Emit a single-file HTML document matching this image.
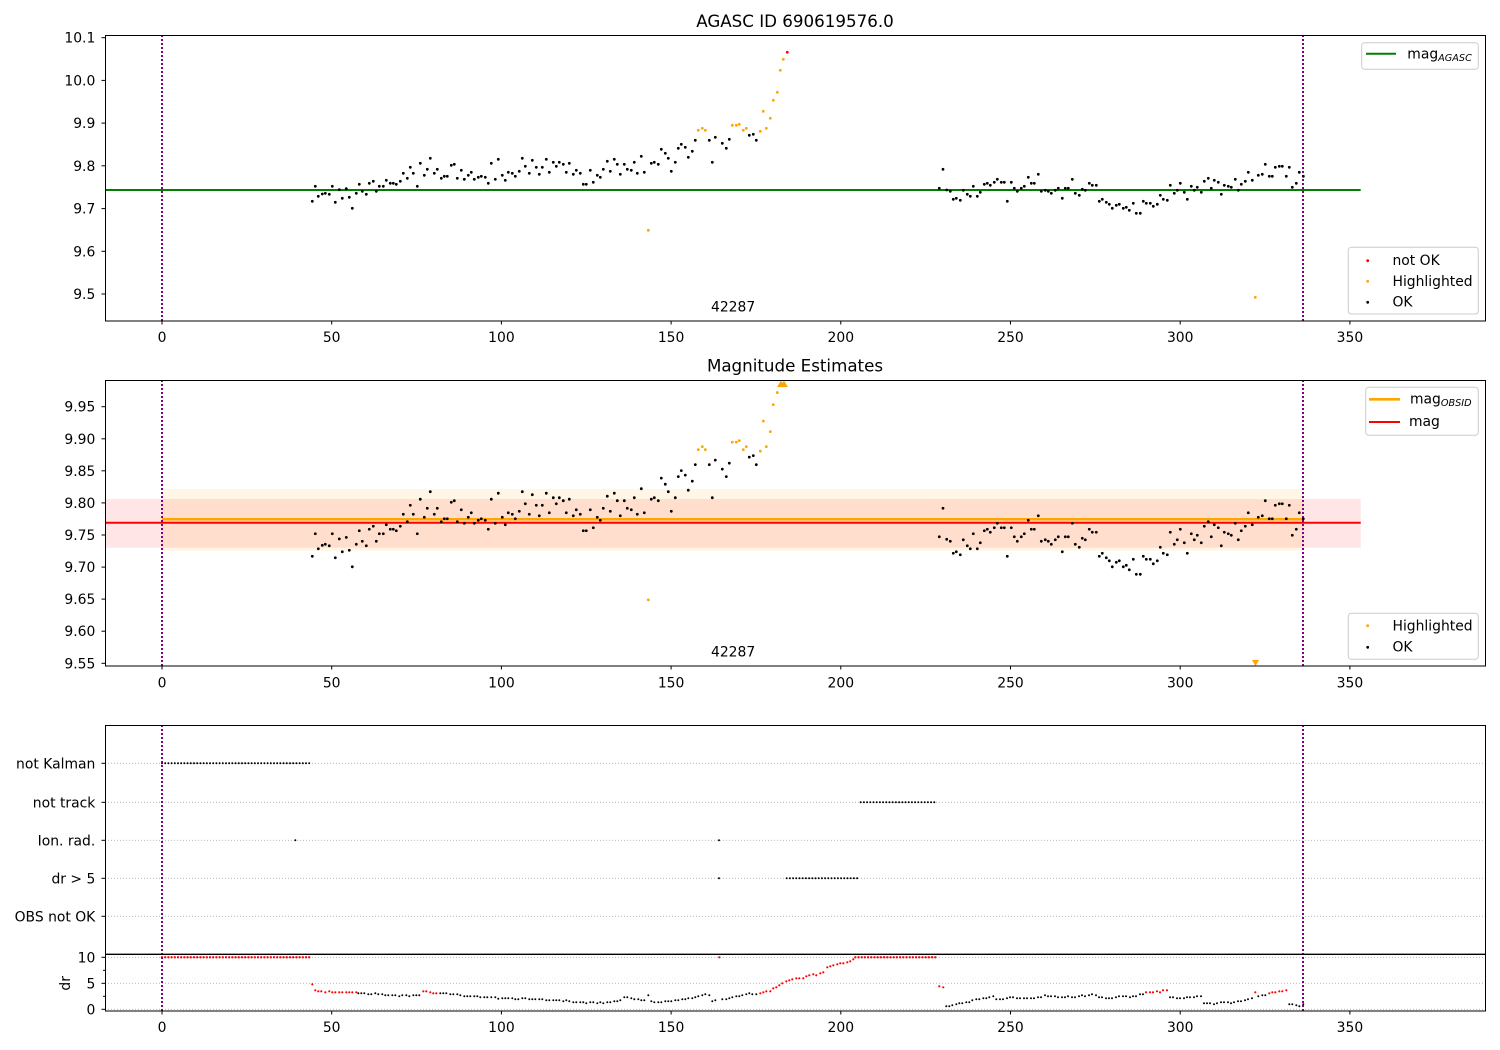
<!DOCTYPE html>
<html><head><meta charset="utf-8"><style>
html,body{margin:0;padding:0;background:#fff;}
svg{display:block;}
text{font-family:"DejaVu Sans","Liberation Sans",sans-serif;fill:#000;}
.t{font-size:13.9px;}
.ti{font-size:16.7px;}
</style></head><body>
<svg width="1500" height="1050" viewBox="0 0 1500 1050" xmlns="http://www.w3.org/2000/svg">
<defs>
<clipPath id="c1"><rect x="105" y="35" width="1380.5" height="286"/></clipPath>
<clipPath id="c2"><rect x="105" y="380" width="1380.5" height="286.3"/></clipPath>
<clipPath id="c3"><rect x="105" y="725" width="1380.5" height="286"/></clipPath>
</defs>
<rect width="1500" height="1050" fill="#fff"/>

<!-- ================= PANEL 1 ================= -->
<text class="ti" x="795" y="27" text-anchor="middle">AGASC ID 690619576.0</text>
<g clip-path="url(#c1)">
<line x1="105" y1="190" x2="1360.7" y2="190" stroke="#008000" stroke-width="2"/>
<line x1="162" y1="35" x2="162" y2="321" stroke="#800080" stroke-width="2" stroke-dasharray="2 2"/>
<line x1="1303" y1="35" x2="1303" y2="321" stroke="#800080" stroke-width="2" stroke-dasharray="2 2"/>
<path id="blk" vector-effect="non-scaling-stroke" fill="none" stroke="#000" stroke-width="2.8" stroke-linecap="round" d="M312.3 201.3h0M315.3 186.3h0M318.3 196.3h0M322.3 194h0M325.3 193.3h0M329.3 194.3h0M332.3 186.3h0M335.3 202.3h0M339.3 189.7h0M342.3 198.3h0M346.3 188.7h0M349.3 197.3h0M352.3 208.3h0M356.3 193.3h0M359.3 184.3h0M362.3 191.3h0M366.3 194.3h0M369.3 183.3h0M373.3 181.3h0M376.3 191.3h0M379.3 186.3h0M383.3 186.3h0M386.3 180.3h0M390.3 183.3h0M393.3 183.3h0M396.3 184.3h0M400.3 181.3h0M403.3 173.3h0M407.3 178.3h0M410.3 167.3h0M413.3 173.3h0M417.3 186.3h0M420.3 163.3h0M424.3 175.3h0M427.3 169.3h0M430.3 158.3h0M434.3 173.3h0M437.3 169.3h0M441.3 178.3h0M444.3 176.3h0M447.3 176.3h0M451.3 165.3h0M454.3 164.3h0M457.3 178.3h0M461.3 170.3h0M464.3 179.3h0M468.3 175.3h0M471.3 172.3h0M474.3 179.3h0M478.3 177.3h0M481.3 176.3h0M485.3 177.3h0M488.3 183.3h0M491.3 163.3h0M495.3 179.3h0M498.3 159.3h0M502.3 175.3h0M505.3 180.3h0M508.3 172.3h0M512.3 173.3h0M515.3 176.3h0M519.3 171.3h0M522.3 158.3h0M525.3 166.3h0M529.3 173.3h0M532.3 160.3h0M536.3 167.3h0M539.3 174.3h0M542.3 167.3h0M546.3 159.3h0M549.3 172.3h0M553.3 162.3h0M556.3 166.3h0M559.3 162.3h0M563.3 164.3h0M566.3 172.3h0M569.3 163.3h0M573.3 174.3h0M576.3 170.3h0M580.3 173.3h0M583.3 184.3h0M586.3 184.3h0M590.3 170.3h0M593.3 182.3h0M597.3 175.3h0M600.3 177.3h0M603.3 169.3h0M607.3 161.3h0M610.3 171.3h0M614.3 159.3h0M617.3 164.3h0M620.3 174.3h0M624.3 164.3h0M627.3 169.3h0M631.3 170.3h0M634.3 162.3h0M637.3 173.3h0M641.3 156.3h0M644.3 172.3h0M651.3 163.3h0M654.3 162.3h0M658.3 164.3h0M661.3 149.3h0M665.3 153.3h0M668.3 158.3h0M671.3 171.3h0M675.3 162.3h0M678.3 148.3h0M681.3 144.3h0M685.3 147.3h0M688.3 157.3h0M692.3 151.3h0M695.3 140.3h0M709.3 140.3h0M712.3 162.3h0M715.3 137.3h0M722.3 143.3h0M726.3 148.3h0M729.3 139.3h0M749.3 135.3h0M753.3 134.3h0M756.3 140.3h0M939.3 188.3h0M943 169.3h0M946.7 190h0M950.3 191.3h0M953.3 199.3h0M956.3 198.3h0M960.3 200.3h0M963.3 190.3h0M967.3 194.3h0M970.3 196.3h0M973.3 186.3h0M977.3 196.3h0M980.3 192.3h0M984.3 184.3h0M987.3 183.3h0M990.3 185.3h0M994.3 182.3h0M997.3 179.3h0M1001.3 182.3h0M1004.3 182.3h0M1007.3 201.3h0M1011.3 182.3h0M1014.3 188.3h0M1017.3 191.3h0M1021.3 188.3h0M1024.3 186.3h0M1028.3 177.3h0M1031.3 183.3h0M1034.3 183.3h0M1038.3 174.3h0M1041.3 191.3h0M1045.3 190.3h0M1048.3 191.3h0M1051.3 193.3h0M1055.3 190.3h0M1058.3 188.3h0M1062.3 198.3h0M1065.3 188.3h0M1068.3 188.3h0M1072.3 179.3h0M1075.3 193.3h0M1079.3 195.3h0M1082.3 189.3h0M1085.3 190.3h0M1089.3 183.3h0M1092.3 185.3h0M1096.3 185.3h0M1099.3 201.3h0M1102.3 199.3h0M1106.3 202.3h0M1109.3 204.3h0M1112.3 208.3h0M1116.3 205.3h0M1119.3 204.3h0M1123.3 208.3h0M1126.3 207.3h0M1129.3 210.3h0M1133.3 203.3h0M1136.3 213.3h0M1140.3 213.3h0M1143.3 201.3h0M1146.3 203.3h0M1150.3 203.3h0M1153.3 206.3h0M1157.3 204.3h0M1160.3 195.3h0M1163.3 199.3h0M1167.3 200.3h0M1170.3 185.3h0M1174.3 193.3h0M1177.3 190.3h0M1180.3 183.3h0M1184.3 192.3h0M1187.3 199.3h0M1191.3 186.3h0M1194.3 190.3h0M1197.3 187.3h0M1201.3 192.3h0M1204.3 181.3h0M1208.3 178.3h0M1211.3 188.3h0M1214.3 180.3h0M1218.3 182.3h0M1221.3 194.3h0M1224.3 185.3h0M1228.3 186.3h0M1231.3 187.3h0M1235.3 179.3h0M1238.3 190.3h0M1241.3 184.3h0M1245.3 181.3h0M1248.3 172.3h0M1252.3 180.3h0M1258.3 175.3h0M1262.3 174.3h0M1265.3 164.3h0M1269.3 176.3h0M1272.3 176.3h0M1275.3 167.3h0M1279.3 166.3h0M1282.3 166.3h0M1286.3 176.3h0M1289.3 167.3h0M1292.3 187.3h0M1296.3 183.3h0M1299.3 172.3h0M1303.3 176.3h0"/>
<path id="org" vector-effect="non-scaling-stroke" fill="none" stroke="#ffa500" stroke-width="2.8" stroke-linecap="round" d="M698.3 130.3h0M702.3 128.3h0M705.3 130.3h0M648.3 230.3h0M732.3 125.3h0M736.3 125.3h0M739.3 124.3h0M743.3 130.3h0M746.3 128.3h0M760.3 131.3h0M763.3 111.3h0M766.3 128.3h0M770.3 118.3h0M773.3 100.3h0M777.3 92.3h0M780.3 70.3h0M783.3 59.3h0M1255.3 297.3h0"/>
<path fill="none" stroke="#ff0000" stroke-width="2.8" stroke-linecap="round" d="M787.3 52.3h0"/>
</g>
<text class="t" x="711" y="311.7">42287</text>
<rect x="105.5" y="35.5" width="1380" height="285.5" fill="none" stroke="#000" stroke-width="1"/>
<!-- y ticks p1 -->
<g stroke="#000" stroke-width="1">
<line x1="101.5" y1="294" x2="105" y2="294"/><line x1="101.5" y1="251.3" x2="105" y2="251.3"/><line x1="101.5" y1="208.6" x2="105" y2="208.6"/><line x1="101.5" y1="165.8" x2="105" y2="165.8"/><line x1="101.5" y1="123.1" x2="105" y2="123.1"/><line x1="101.5" y1="80.4" x2="105" y2="80.4"/><line x1="101.5" y1="37.7" x2="105" y2="37.7"/>
<line x1="162" y1="321" x2="162" y2="324.5"/><line x1="331.7" y1="321" x2="331.7" y2="324.5"/><line x1="501.4" y1="321" x2="501.4" y2="324.5"/><line x1="671.1" y1="321" x2="671.1" y2="324.5"/><line x1="840.8" y1="321" x2="840.8" y2="324.5"/><line x1="1010.5" y1="321" x2="1010.5" y2="324.5"/><line x1="1180.2" y1="321" x2="1180.2" y2="324.5"/><line x1="1349.9" y1="321" x2="1349.9" y2="324.5"/>
</g>
<g class="t" text-anchor="end" font-size="13.9">
<text x="95.3" y="299">9.5</text><text x="95.3" y="256.3">9.6</text><text x="95.3" y="213.6">9.7</text><text x="95.3" y="170.8">9.8</text><text x="95.3" y="128.1">9.9</text><text x="95.3" y="85.4">10.0</text><text x="95.3" y="42.7">10.1</text>
</g>
<g text-anchor="middle" font-size="13.9">
<text x="162" y="342">0</text><text x="331.7" y="342">50</text><text x="501.4" y="342">100</text><text x="671.1" y="342">150</text><text x="840.8" y="342">200</text><text x="1010.5" y="342">250</text><text x="1180.2" y="342">300</text><text x="1349.9" y="342">350</text>
</g>
<!-- legends p1 -->
<rect x="1361.7" y="42.7" width="116.6" height="26.6" rx="3" fill="#fff" fill-opacity="0.8" stroke="#cccccc" stroke-width="1"/>
<line x1="1366" y1="53.7" x2="1396" y2="53.7" stroke="#008000" stroke-width="2"/>
<text font-size="13.9" x="1407.3" y="58.3">mag<tspan font-size="9.7" font-style="italic" dy="2.8">AGASC</tspan></text>
<rect x="1348.3" y="247.3" width="130" height="66.7" rx="3" fill="#fff" fill-opacity="0.8" stroke="#cccccc" stroke-width="1"/>
<path fill="none" stroke="#ff0000" stroke-width="2.8" stroke-linecap="round" d="M1367.7 260.7h0"/>
<path fill="none" stroke="#ffa500" stroke-width="2.8" stroke-linecap="round" d="M1367.7 281.3h0"/>
<path fill="none" stroke="#000" stroke-width="2.8" stroke-linecap="round" d="M1367.7 302.3h0"/>
<text font-size="13.9" x="1392.5" y="265">not OK</text>
<text font-size="13.9" x="1392.5" y="286">Highlighted</text>
<text font-size="13.9" x="1392.5" y="306.7">OK</text>

<!-- ================= PANEL 2 ================= -->
<text class="ti" x="795" y="371.7" text-anchor="middle">Magnitude Estimates</text>
<g clip-path="url(#c2)">
<rect x="105" y="499" width="1255.7" height="48.7" fill="#ff0000" fill-opacity="0.1"/>
<rect x="162" y="489" width="1141" height="61.7" fill="#ffa500" fill-opacity="0.1"/>
<line x1="162" y1="519.3" x2="1303" y2="519.3" stroke="#ffa500" stroke-width="2.5"/>
<line x1="105" y1="522.7" x2="1360.7" y2="522.7" stroke="#ff0000" stroke-width="2"/>
<line x1="162" y1="380" x2="162" y2="666" stroke="#800080" stroke-width="2" stroke-dasharray="2 2"/>
<line x1="1303" y1="380" x2="1303" y2="666" stroke="#800080" stroke-width="2" stroke-dasharray="2 2"/>
<g transform="matrix(1 0 0 1.5019 0 253.95)">
<use href="#blk"/>
<use href="#org"/>
</g>
<polygon points="777,387 781,380.5 785,387" fill="#ffa500"/>
<polygon points="780,387 784,380.5 788,387" fill="#ffa500"/>
<polygon points="1252,660 1259,660 1255.5,666" fill="#ffa500"/>
</g>
<text font-size="13.9" x="711" y="656.7">42287</text>
<rect x="105.5" y="380.5" width="1380" height="285.5" fill="none" stroke="#000" stroke-width="1"/>
<g stroke="#000" stroke-width="1">
<line x1="101.5" y1="663.3" x2="105" y2="663.3"/><line x1="101.5" y1="631.2" x2="105" y2="631.2"/><line x1="101.5" y1="599.1" x2="105" y2="599.1"/><line x1="101.5" y1="567.1" x2="105" y2="567.1"/><line x1="101.5" y1="535" x2="105" y2="535"/><line x1="101.5" y1="502.9" x2="105" y2="502.9"/><line x1="101.5" y1="470.8" x2="105" y2="470.8"/><line x1="101.5" y1="438.8" x2="105" y2="438.8"/><line x1="101.5" y1="406.7" x2="105" y2="406.7"/>
<line x1="162" y1="666" x2="162" y2="669.5"/><line x1="331.7" y1="666" x2="331.7" y2="669.5"/><line x1="501.4" y1="666" x2="501.4" y2="669.5"/><line x1="671.1" y1="666" x2="671.1" y2="669.5"/><line x1="840.8" y1="666" x2="840.8" y2="669.5"/><line x1="1010.5" y1="666" x2="1010.5" y2="669.5"/><line x1="1180.2" y1="666" x2="1180.2" y2="669.5"/><line x1="1349.9" y1="666" x2="1349.9" y2="669.5"/>
</g>
<g text-anchor="end" font-size="13.9">
<text x="95.3" y="668.3">9.55</text><text x="95.3" y="636.2">9.60</text><text x="95.3" y="604.1">9.65</text><text x="95.3" y="572.1">9.70</text><text x="95.3" y="540">9.75</text><text x="95.3" y="507.9">9.80</text><text x="95.3" y="475.8">9.85</text><text x="95.3" y="443.8">9.90</text><text x="95.3" y="411.7">9.95</text>
</g>
<g text-anchor="middle" font-size="13.9">
<text x="162" y="687.3">0</text><text x="331.7" y="687.3">50</text><text x="501.4" y="687.3">100</text><text x="671.1" y="687.3">150</text><text x="840.8" y="687.3">200</text><text x="1010.5" y="687.3">250</text><text x="1180.2" y="687.3">300</text><text x="1349.9" y="687.3">350</text>
</g>
<rect x="1365.7" y="387.3" width="112.6" height="48" rx="3" fill="#fff" fill-opacity="0.8" stroke="#cccccc" stroke-width="1"/>
<line x1="1369" y1="399.3" x2="1400" y2="399.3" stroke="#ffa500" stroke-width="2.7"/>
<line x1="1369" y1="422" x2="1400" y2="422" stroke="#ff0000" stroke-width="2"/>
<text font-size="13.9" x="1410" y="403.3">mag<tspan font-size="9.7" font-style="italic" dy="2.6">OBSID</tspan></text>
<text font-size="13.9" x="1409" y="426">mag</text>
<rect x="1348.3" y="613.3" width="130" height="46" rx="3" fill="#fff" fill-opacity="0.8" stroke="#cccccc" stroke-width="1"/>
<path fill="none" stroke="#ffa500" stroke-width="2.8" stroke-linecap="round" d="M1367.7 625.7h0"/>
<path fill="none" stroke="#000" stroke-width="2.8" stroke-linecap="round" d="M1367.7 647.3h0"/>
<text font-size="13.9" x="1392.5" y="630.7">Highlighted</text>
<text font-size="13.9" x="1392.5" y="651.7">OK</text>

<!-- ================= PANEL 3 ================= -->
<g clip-path="url(#c3)">
<g stroke="#b0b0b0" stroke-width="0.8" stroke-dasharray="1 2">
<line x1="105" y1="763.3" x2="1485" y2="763.3"/>
<line x1="105" y1="802.3" x2="1485" y2="802.3"/>
<line x1="105" y1="840.3" x2="1485" y2="840.3"/>
<line x1="105" y1="878.3" x2="1485" y2="878.3"/>
<line x1="105" y1="916.3" x2="1485" y2="916.3"/>
<line x1="105" y1="957.3" x2="1485" y2="957.3"/>
<line x1="105" y1="983.3" x2="1485" y2="983.3"/>
<line x1="105" y1="1009.3" x2="1485" y2="1009.3"/>
</g>
<g stroke="#000" stroke-width="2" stroke-linecap="round" stroke-dasharray="0 3.2">
<line x1="162" y1="763.3" x2="310" y2="763.3"/>
<line x1="860.7" y1="802.3" x2="937.3" y2="802.3"/>
<line x1="786.7" y1="878.3" x2="859" y2="878.3"/>
</g>
<path fill="none" stroke="#000" stroke-width="2" stroke-linecap="round" d="M295.3 840.3h0M719 840.3h0M719 878.3h0"/>
<g stroke="#ff0000" stroke-width="2.4" stroke-linecap="round" stroke-dasharray="0 3.2">
<line x1="162" y1="957.3" x2="310" y2="957.3"/>
<line x1="855.3" y1="957.3" x2="937.3" y2="957.3"/>
</g>
<path fill="none" stroke="#ff0000" stroke-width="2.2" stroke-linecap="round" d="M719.3 957.3h0M312.3 984.3h0M315.3 990.3h0M318.3 991.3h0M321.3 991.3h0M325.3 992.3h0M329.3 991.3h0M332.3 992.3h0M335.3 992.3h0M339.3 992.3h0M342.3 992.3h0M346.3 992.3h0M349.3 992.3h0M352.3 992.3h0M356.3 992.3h0M423.3 991.3h0M426.3 991.3h0M430.3 992.3h0M433.3 993.3h0M436.3 993.3h0M760.3 993.3h0M763.3 992.3h0M766.3 991.3h0M770.3 991.3h0M773.3 988.3h0M776.3 987.3h0M779.3 985.3h0M782.3 983.3h0M786.3 981.3h0M789.3 980.3h0M792.3 979.3h0M796.3 978.3h0M799.3 978.3h0M803.3 978.3h0M806.3 976.3h0M809.3 975.3h0M813.3 974.3h0M816.3 975.3h0M820.3 973.3h0M823.3 972.3h0M827.3 967.3h0M830.3 966.3h0M833.3 965.3h0M837.3 964.3h0M840.3 963.3h0M843.3 963.3h0M847.3 962.3h0M850.3 961.3h0M853.3 959.3h0M939.3 986.3h0M943.3 987.3h0M1146 992.3h0M1150 992.3h0M1153 992.3h0M1157 991.3h0M1160 992.3h0M1163 990.3h0M1167 990.3h0M1255.3 992.3h0M1269.3 993.3h0M1272.3 992.3h0M1275.3 992.3h0M1279.3 991.3h0M1282.3 991.3h0M1286.3 990.3h0"/>
<path fill="none" stroke="#000" stroke-width="2" stroke-linecap="round" d="M358.3 993.3h0M361.3 993.3h0M364.3 993.3h0M368.3 994.3h0M371.3 994.3h0M375.3 993.3h0M378.3 994.3h0M382.3 994.3h0M385.3 995.3h0M388.3 995.3h0M392.3 995.3h0M395.3 995.3h0M399.3 996.3h0M402.3 995.3h0M406.3 995.3h0M409.3 996.3h0M413.3 995.3h0M416.3 995.3h0M419.3 995.3h0M440.3 993.3h0M443.3 993.3h0M446.3 993.3h0M450.3 994.3h0M453.3 994.3h0M457.3 994.3h0M460.3 995.3h0M464.3 996.3h0M467.3 996.3h0M470.3 996.3h0M474.3 996.3h0M477.3 996.3h0M480.3 997.3h0M484.3 997.3h0M487.3 997.3h0M491.3 997.3h0M495.3 997.3h0M498.3 998.7h0M502.3 998.3h0M505.3 998.3h0M508.3 998.3h0M512.3 998.3h0M515.3 999.3h0M518.3 999.3h0M522.3 998.3h0M525.3 998.3h0M529.3 999.3h0M532.3 999.3h0M535.3 999.3h0M539.3 999.3h0M542.3 999.3h0M546.3 1000.3h0M549.3 1000.3h0M553.3 1000.3h0M556.3 1000.3h0M559.3 1000.3h0M563.3 1001.3h0M566.3 1000.3h0M569.3 1001.3h0M573.3 1002.3h0M576.3 1002.3h0M580.3 1002.3h0M583.3 1002.3h0M586.3 1003.3h0M590.3 1002.3h0M593.3 1002.3h0M597.3 1003.3h0M600.3 1002.3h0M603.3 1003.3h0M607.3 1002.3h0M610.3 1002.3h0M614.3 1001.3h0M617.3 1001.3h0M620.3 1000.3h0M624.3 997.3h0M627.3 997.3h0M631.3 998.3h0M634.3 999.3h0M638.3 999.3h0M641.3 1000.3h0M644.3 1000.3h0M648.3 995.3h0M651.3 1001.3h0M654.3 1002.3h0M658.3 1002.3h0M661.3 1002.3h0M665.3 1001.3h0M668.3 1001.3h0M671.3 1001.3h0M675.3 1000.3h0M678.3 1000.3h0M682.3 999.3h0M685.3 999.3h0M688.3 998.3h0M692.3 998.3h0M695.3 997.3h0M698.3 996.3h0M702.3 995.3h0M705.3 994.3h0M709.3 995.3h0M712.3 1001.3h0M715.3 1000.3h0M722.3 999.3h0M726.3 999.3h0M729.3 998.3h0M732.3 997.3h0M736.3 996.3h0M739.3 996.3h0M742.3 995.3h0M746.3 994.3h0M749.3 993.3h0M752.3 994.3h0M756.3 994.3h0M946.3 1006.3h0M949.3 1006.3h0M952.3 1005.3h0M956.3 1004.3h0M959.3 1003.3h0M962.3 1003.3h0M966.3 1002.3h0M969.3 1002.3h0M972.3 1000.3h0M976.3 999.3h0M979.3 999.3h0M983.3 998.3h0M986.3 998.3h0M989.3 997.3h0M993.3 996.3h0M996.3 999.3h0M1000 999.3h0M1003 999.3h0M1007 998.3h0M1010 997.3h0M1013 997.3h0M1017 998.3h0M1020 998.3h0M1024 998.3h0M1027 998.3h0M1031 998.3h0M1034 998.3h0M1038 997.3h0M1041 997.3h0M1045 995.3h0M1048 996.3h0M1051 996.3h0M1055 996.3h0M1058 997.3h0M1062 997.3h0M1065 997.3h0M1068 996.3h0M1072 997.3h0M1075 997.3h0M1079 996.3h0M1082 995.3h0M1085 996.3h0M1089 995.3h0M1092 994.3h0M1096 995.3h0M1099 997.3h0M1102 997.3h0M1106 998.3h0M1109 998.3h0M1112 998.3h0M1116 997.3h0M1119 996.3h0M1123 996.3h0M1126 996.3h0M1130 997.3h0M1133 996.3h0M1136 996.3h0M1140 994.3h0M1143 994.3h0M1170 997.3h0M1173 997.3h0M1177 998.3h0M1180 998.3h0M1184 998.3h0M1187 997.3h0M1190 997.3h0M1194 997.3h0M1197 996.3h0M1201 996.3h0M1204 1003.3h0M1207 1003.3h0M1210 1003.3h0M1214 1004.3h0M1217 1003.3h0M1221 1002.3h0M1224 1002.3h0M1228 1002.3h0M1231 1003.3h0M1234 1002.3h0M1238 1001.3h0M1241 1001.3h0M1245 1000.3h0M1248 999.3h0M1252 998.3h0M1258.3 996.3h0M1262.3 995.3h0M1265.3 995.3h0M1289.3 1004.3h0M1292.3 1004.3h0M1296.3 1005.3h0M1299.3 1006.3h0M1303.3 1004.3h0"/>
<line x1="162" y1="725" x2="162" y2="1011" stroke="#800080" stroke-width="2" stroke-dasharray="2 2"/>
<line x1="1303" y1="725" x2="1303" y2="1011" stroke="#800080" stroke-width="2" stroke-dasharray="2 2"/>
</g>
<line x1="105" y1="954.3" x2="1485.5" y2="954.3" stroke="#000" stroke-width="1.3"/>
<rect x="105.5" y="725.5" width="1380" height="285.5" fill="none" stroke="#000" stroke-width="1"/>
<g stroke="#000" stroke-width="1">
<line x1="101.5" y1="763.3" x2="105" y2="763.3"/><line x1="101.5" y1="802.3" x2="105" y2="802.3"/><line x1="101.5" y1="840.3" x2="105" y2="840.3"/><line x1="101.5" y1="878.3" x2="105" y2="878.3"/><line x1="101.5" y1="916.3" x2="105" y2="916.3"/>
<line x1="101.5" y1="957.3" x2="105" y2="957.3"/><line x1="101.5" y1="983.3" x2="105" y2="983.3"/><line x1="101.5" y1="1009.3" x2="105" y2="1009.3"/>
<line x1="103" y1="970.3" x2="105" y2="970.3"/><line x1="103" y1="996.3" x2="105" y2="996.3"/>
<line x1="162" y1="1011" x2="162" y2="1014.5"/><line x1="331.7" y1="1011" x2="331.7" y2="1014.5"/><line x1="501.4" y1="1011" x2="501.4" y2="1014.5"/><line x1="671.1" y1="1011" x2="671.1" y2="1014.5"/><line x1="840.8" y1="1011" x2="840.8" y2="1014.5"/><line x1="1010.5" y1="1011" x2="1010.5" y2="1014.5"/><line x1="1180.2" y1="1011" x2="1180.2" y2="1014.5"/><line x1="1349.9" y1="1011" x2="1349.9" y2="1014.5"/>
</g>
<g text-anchor="end" font-size="13.9">
<text x="95.3" y="768.3">not Kalman</text>
<text x="95.3" y="807.3">not track</text>
<text x="95.3" y="845.3">Ion. rad.</text>
<text x="95.3" y="883.3">dr &gt; 5</text>
<text x="95.3" y="921.3">OBS not OK</text>
<text x="95.3" y="962.3">10</text>
<text x="95.3" y="988.3">5</text>
<text x="95.3" y="1014.3">0</text>
</g>
<text font-size="13.9" text-anchor="middle" transform="translate(70,983.3) rotate(-90)">dr</text>
<g text-anchor="middle" font-size="13.9">
<text x="162" y="1032">0</text><text x="331.7" y="1032">50</text><text x="501.4" y="1032">100</text><text x="671.1" y="1032">150</text><text x="840.8" y="1032">200</text><text x="1010.5" y="1032">250</text><text x="1180.2" y="1032">300</text><text x="1349.9" y="1032">350</text>
</g>
</svg>
</body></html>
